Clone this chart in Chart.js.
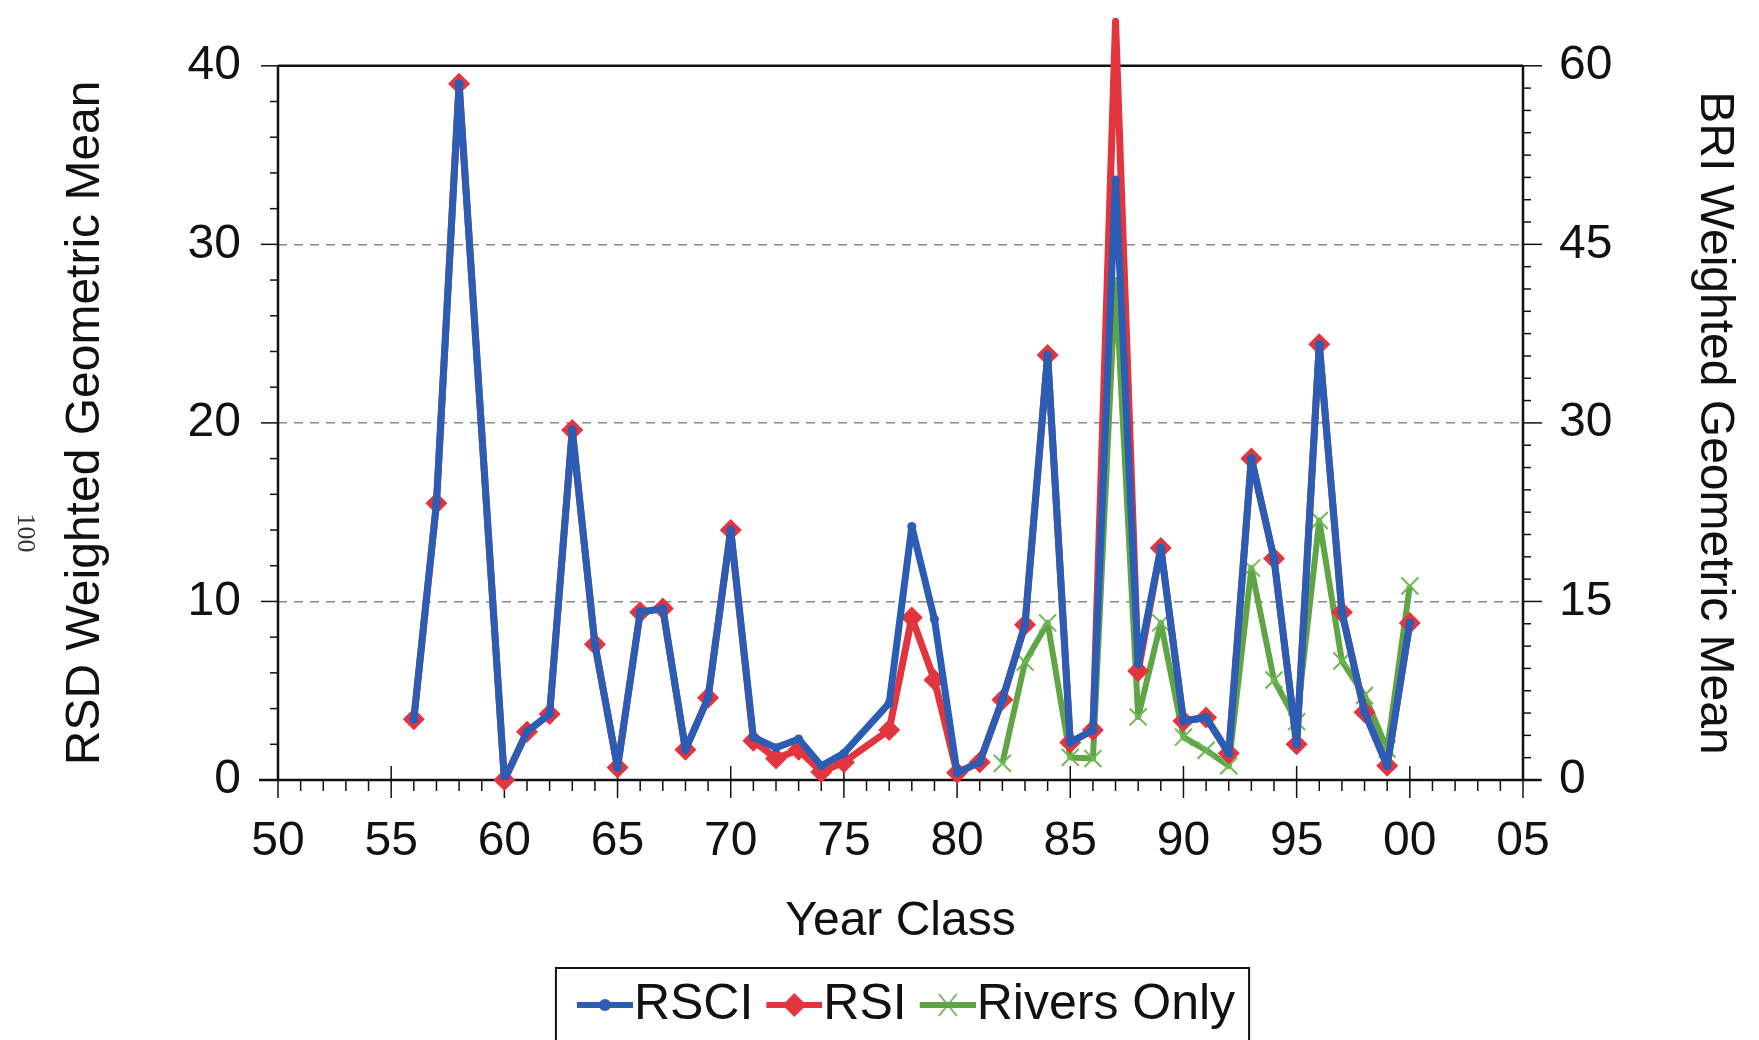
<!DOCTYPE html>
<html>
<head>
<meta charset="utf-8">
<script src="https://cdn.jsdelivr.net/npm/chart.js@4.4.1/dist/chart.umd.min.js"></script>
<style>
html, body { margin: 0; background: #fff; }
#wrap { position: relative; width: 1759px; height: 1040px; }
#pagina { position: absolute; left: 4px; top: 518px; width: 44px; text-align: center;
  font-family: "Liberation Serif", "DejaVu Serif", serif; font-size: 26px; color: #333;
  transform: rotate(90deg); }
</style>
</head>
<body>
<div id="wrap">
  <canvas id="grafico"></canvas>
  <div id="pagina">100</div>
</div>
<script>
// dados (1959 e 1976 sem valor)
const years = [1956, 1957, 1958, 1959, 1960, 1961, 1962, 1963, 1964, 1965,
  1966, 1967, 1968, 1969, 1970, 1971, 1972, 1973, 1974, 1975,
  1976, 1977, 1978, 1979, 1980, 1981, 1982, 1983, 1984, 1985,
  1986, 1987, 1988, 1989, 1990, 1991, 1992, 1993, 1994, 1995,
  1996, 1997, 1998, 1999, 2000]

const rsci = [3.4, 15.5, 39.0, null, 0.0, 2.7, 3.7, 19.6, 7.6, 0.7,
  9.4, 9.6, 1.7, 4.6, 14.0, 2.4, 1.8, 2.3, 0.8, 1.5,
  null, 4.3, 14.2, 9.0, 0.4, 1.0, 4.5, 8.7, 23.8, 2.1,
  2.8, 33.6, 6.5, 13.0, 3.3, 3.5, 1.5, 18.0, 12.4, 2.0,
  24.4, 9.4, 3.8, 0.8, 8.8]

const rsi = [3.4, 15.5, 39.0, null, 0.0, 2.7, 3.7, 19.6, 7.6, 0.7,
  9.4, 9.6, 1.7, 4.6, 14.0, 2.2, 1.2, 1.7, 0.45, 1.0,
  null, 2.8, 9.1, 5.6, 0.4, 1.0, 4.5, 8.7, 23.8, 2.1,
  2.8, 42.5, 6.1, 13.0, 3.3, 3.5, 1.5, 18.0, 12.4, 2.0,
  24.4, 9.4, 3.8, 0.8, 8.8]

// Rivers Only no eixo da direita (BRI)
const riversOnly = [null, null, null, null, null, null, null, null, null, null,
  null, null, null, null, null, null, null, null, null, null,
  null, null, null, null, null, null, 1.4, 9.9, 13.2, 1.9,
  1.8, 42.0, 5.3, 13.2, 3.6, 2.5, 1.2, 17.8, 8.4, 4.9,
  21.8, 10.0, 7.1, 2.6, 16.3]

const azul = '#2c5db4'
const vermelho = '#e2353d'
const verde = '#5fa545'

Chart.defaults.font.family = '"Liberation Sans", Arial, sans-serif'
Chart.defaults.font.size = 48
Chart.defaults.color = '#111'

const pontos = vals => years.map((x, i) => ({ x, y: vals[i] }))

// simbolos da legenda: linha + marcador
function simbolo(cor, tipo) {
  const c = document.createElement('canvas')
  c.width = 81
  c.height = 30
  const g = c.getContext('2d')
  g.strokeStyle = cor
  g.fillStyle = cor
  g.lineWidth = 6
  g.beginPath(); g.moveTo(25, 15); g.lineTo(81, 15); g.stroke()
  const cx = 53
  if (tipo === 'circle') {
    g.beginPath(); g.arc(cx, 15, 6, 0, Math.PI * 2); g.fill()
  } else if (tipo === 'rectRot') {
    g.beginPath(); g.moveTo(cx, 3); g.lineTo(cx + 12, 15); g.lineTo(cx, 27); g.lineTo(cx - 12, 15); g.closePath(); g.fill()
  } else {
    g.lineWidth = 1.5
    g.beginPath()
    g.moveTo(cx - 9, 4); g.lineTo(cx + 9, 26)
    g.moveTo(cx + 9, 4); g.lineTo(cx - 9, 26)
    g.stroke()
  }
  return c
}
const simbolosLegenda = [simbolo(azul, 'circle'), simbolo(vermelho, 'rectRot'), simbolo(verde, 'crossRot')]

const data = {
  datasets: [{
    label: 'RSCI',
    data: pontos(rsci),
    borderColor: azul,
    backgroundColor: azul,
    borderWidth: 7,
    borderJoinStyle: 'round',
    pointStyle: 'circle',
    pointRadius: 4.5,
    pointBorderWidth: 0,
    yAxisID: 'y'
  }, {
    label: 'RSI',
    data: pontos(rsi),
    borderColor: vermelho,
    backgroundColor: vermelho,
    borderWidth: 7,
    borderJoinStyle: 'round',
    pointStyle: 'rectRot',
    pointRadius: 11,
    pointBorderWidth: 0,
    clip: false,
    yAxisID: 'y'
  }, {
    label: 'Rivers Only',
    data: pontos(riversOnly),
    borderColor: verde,
    backgroundColor: verde,
    borderWidth: 6,
    borderJoinStyle: 'round',
    pointStyle: 'crossRot',
    pointRadius: 12,
    pointBorderWidth: 2,
    pointBorderColor: '#6db852',
    yAxisID: 'y1'
  }]
}

// moldura preta e marcas de escala (maiores e menores)
const molduraETicks = {
  id: 'molduraETicks',
  beforeDatasetsDraw(chart) {
    const { ctx, chartArea: a, scales: { x, y, y1 } } = chart
    const linha = (x0, y0, x2, y2) => { ctx.beginPath(); ctx.moveTo(x0, y0); ctx.lineTo(x2, y2); ctx.stroke() }
    ctx.save()
    ctx.strokeStyle = '#111'
    ctx.lineWidth = 1.5
    for (let v = 1950; v <= 2005; v++) {
      const px = x.getPixelForValue(v)
      if (v % 5 === 0) linha(px, a.bottom - 14, px, a.bottom + 18)
      else linha(px, a.bottom, px, a.bottom + 11)
    }
    for (let v = 0; v <= 40; v += 2) {
      const py = y.getPixelForValue(v)
      linha(a.left - (v % 10 === 0 ? 17 : 8), py, a.left, py)
    }
    for (let k = 0; k <= 32; k++) {
      const py = y1.getPixelForValue(k * 1.875)
      linha(a.right, py, a.right + (k % 8 === 0 ? 19 : 8), py)
    }
    ctx.lineWidth = 2.5
    linha(a.left, a.top, a.right, a.top)
    linha(a.left, a.top, a.left, a.bottom)
    linha(a.right, a.top, a.right, a.bottom)
    linha(a.left - 19, a.bottom, a.right + 18, a.bottom)
    ctx.restore()
  }
}

// legenda um pouco a direita do centro, com caixa em volta
const caixaLegenda = {
  id: 'caixaLegenda',
  afterLayout(chart) {
    const lg = chart.legend
    if (!lg) return
    lg.left += 26
    lg.right += 26
  },
  afterDraw(chart) {
    const lg = chart.legend
    if (!lg || !lg.legendHitBoxes.length) return
    const hb = lg.legendHitBoxes
    const esq = Math.min(...hb.map(h => h.left)) - 20
    const dir = Math.max(...hb.map(h => h.left + h.width)) + 14
    const { ctx } = chart
    ctx.save()
    ctx.strokeStyle = '#111'
    ctx.lineWidth = 2
    ctx.strokeRect(esq, lg.top, dir - esq, chart.height - lg.top + 10)
    ctx.restore()
  }
}

const config = {
  type: 'line',
  data,
  plugins: [molduraETicks, caixaLegenda],
  options: {
    responsive: true,
    maintainAspectRatio: false,
    animation: false,
    spanGaps: true,
    layout: { padding: { top: 64, left: 0, right: 0, bottom: 0 } },
    plugins: {
      tooltip: { enabled: false },
      legend: {
        position: 'bottom',
        labels: {
          usePointStyle: true,
          pointStyleWidth: 33,
          padding: 12,
          color: '#111',
          font: { size: 50 },
          generateLabels(chart) {
            const itens = Chart.defaults.plugins.legend.labels.generateLabels(chart)
            itens.forEach(it => { it.pointStyle = simbolosLegenda[it.datasetIndex] })
            return itens
          }
        }
      }
    },
    scales: {
      x: {
        type: 'linear',
        position: 'bottom',
        min: 1950,
        max: 2005,
        ticks: {
          stepSize: 5,
          padding: 33,
          autoSkip: false,
          maxRotation: 0,
          color: '#111',
          callback: v => String(v % 100).padStart(2, '0')
        },
        grid: { drawOnChartArea: false, drawTicks: false },
        border: { display: false },
        title: { display: true, text: 'Year Class', color: '#111', padding: { top: 0, bottom: 17 } },
        afterFit(s) { s.height = 188 }
      },
      y: {
        position: 'left',
        min: 0,
        max: 40,
        ticks: { stepSize: 10, padding: 37, color: '#111' },
        grid: {
          drawTicks: false,
          lineWidth: 1.5,
          color: c => (c.tick && c.tick.value > 0 && c.tick.value < 40) ? '#888' : 'rgba(0,0,0,0)'
        },
        border: { display: false, dash: [9, 7] },
        title: { display: true, text: 'RSD Weighted Geometric Mean', color: '#111', padding: { top: 57, bottom: 0 } },
        afterFit(s) { s.width = 278 }
      },
      y1: {
        position: 'right',
        min: 0,
        max: 60,
        ticks: { stepSize: 15, padding: 36, color: '#111' },
        grid: { drawOnChartArea: false, drawTicks: false },
        border: { display: false },
        title: { display: true, text: 'BRI Weighted Geometric Mean', color: '#111', padding: { top: 16, bottom: 0 } },
        afterFit(s) { s.width = 236 }
      }
    }
  }
}

const graph = new Chart(document.getElementById('grafico'), config)
</script>
</body>
</html>
